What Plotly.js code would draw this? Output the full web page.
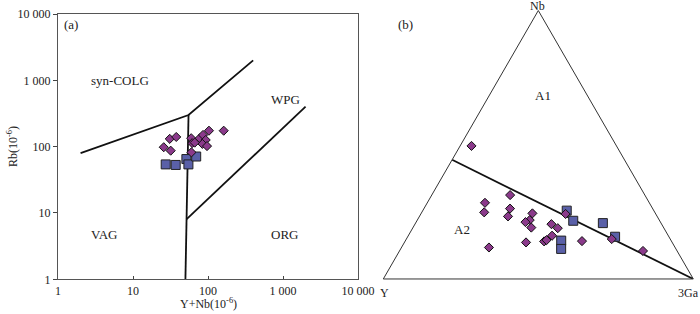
<!DOCTYPE html>
<html>
<head>
<meta charset="utf-8">
<script src="https://cdn.plot.ly/plotly-3.0.1.min.js"></script>
<style>html,body{margin:0;padding:0;background:#fff;}#chart{width:700px;height:314px;}</style>
</head>
<body>
<div id="chart"></div>
<script>
// ---------- Panel (a): Rb vs Y+Nb ----------
var diamondYNb = [25.7, 31.8, 30.9, 37.7, 59.7, 61.6, 60.1, 77.5, 85.8, 103, 93.2, 84.2, 97, 66.5, 162];
var diamondRb  = [98, 87, 131, 140, 134, 113, 82, 134, 150, 174, 126, 110, 102, 115, 174];
var squareYNb  = [27.3, 37.1, 51.5, 54.8, 69.6];
var squareRb   = [54, 53, 65, 54, 71];

// discrimination boundaries (Pearce et al. 1984)
var bVagColgX = [2, 55, 400];    var bVagColgY = [80, 300, 2000];
var bVertX = [55, 51.5, 50];     var bVertY = [300, 8, 1];
var bWpgOrgX = [51.5, 2000];     var bWpgOrgY = [8, 400];

var tickVals = [1, 10, 100, 1000, 10000];
var tickText = ['1', '10', '100', '1 000', '10 000'];

// ---------- Panel (b): Nb - Y - 3Ga ternary ----------
var diamondNb = [0.4956,0.3125,0.2838,0.2482,0.2622,0.2331,0.2444,0.2194,0.2119,0.1914,0.2043,0.1892,0.1612,0.1400,0.1449,0.1362,0.1173,0.2421,0.1411,0.1487,0.1044];
var diamondY  = [0.4677,0.4347,0.5301,0.5504,0.4601,0.4812,0.3968,0.4180,0.4354,0.4269,0.3555,0.3426,0.3750,0.4112,0.4009,0.4715,0.6005,0.2909,0.2885,0.1887,0.1101];
var diamondGa = [0.0367,0.2528,0.1861,0.2014,0.2777,0.2857,0.3588,0.3626,0.3527,0.3817,0.4402,0.4682,0.4638,0.4488,0.4542,0.3923,0.2822,0.4670,0.5704,0.6626,0.7855];
var squareNb  = [0.2546,0.2168,0.2081,0.1574,0.1430,0.1120];
var squareY   = [0.2810,0.2789,0.1877,0.1736,0.3546,0.3703];
var squareGa  = [0.4644,0.5043,0.6042,0.6690,0.5024,0.5177];
var lineNb = [0.444, 0];
var lineY  = [0.556, 0];
var lineGa = [0, 1];

var FONT = '"Liberation Serif", "Times New Roman", serif';
var diamondColor = '#8b3a8b';
var squareColor = '#5a60a8';
var lineColor = '#111';

function log10(v){ return Math.log(v)/Math.LN10; }

var traces = [
  {x: bVagColgX, y: bVagColgY, mode: 'lines', type: 'scatter', line: {color: lineColor, width: 1.8}, hoverinfo: 'skip', showlegend: false},
  {x: bVertX, y: bVertY, mode: 'lines', type: 'scatter', line: {color: lineColor, width: 1.8}, hoverinfo: 'skip', showlegend: false},
  {x: bWpgOrgX, y: bWpgOrgY, mode: 'lines', type: 'scatter', line: {color: lineColor, width: 1.8}, hoverinfo: 'skip', showlegend: false},
  {x: squareYNb, y: squareRb, mode: 'markers', type: 'scatter', showlegend: false,
   marker: {symbol: 'square', size: 9, color: squareColor, line: {color: '#222', width: 1}}},
  {x: diamondYNb, y: diamondRb, mode: 'markers', type: 'scatter', showlegend: false,
   marker: {symbol: 'diamond', size: 7, color: diamondColor, line: {color: '#111', width: 1}}},
  // ternary
  {type: 'scatterternary', a: lineNb, b: lineY, c: lineGa, mode: 'lines', line: {color: lineColor, width: 1.8}, showlegend: false, hoverinfo: 'skip'},
  {type: 'scatterternary', a: squareNb, b: squareY, c: squareGa, mode: 'markers', showlegend: false,
   marker: {symbol: 'square', size: 9, color: squareColor, line: {color: '#222', width: 1}}},
  {type: 'scatterternary', a: diamondNb, b: diamondY, c: diamondGa, mode: 'markers', showlegend: false,
   marker: {symbol: 'diamond', size: 7, color: diamondColor, line: {color: '#111', width: 1}}}
];

var ternAxis = function(){
  return {title: {text: ''}, showticklabels: false, ticks: '', showgrid: false,
          linecolor: '#333', linewidth: 1, min: 0};
};

var lblFont = {family: FONT, size: 13, color: '#222'};
var axFont = {family: FONT, size: 12, color: '#222'};

function paperLabel(px, py, text, font, angle){
  var o = {xref: 'paper', yref: 'paper', x: px/700, y: 1 - py/314, text: text,
           xanchor: 'center', yanchor: 'middle', showarrow: false, font: font};
  if (angle) o.textangle = angle;
  return o;
}

var layout = {
  width: 700, height: 314,
  margin: {l: 0, r: 0, t: 0, b: 0},
  paper_bgcolor: '#fff', plot_bgcolor: '#fff',
  font: {family: FONT, size: 12, color: '#222'},
  xaxis: {type: 'log', range: [0, 4], domain: [58/700, 358/700],
          tickvals: tickVals, ticktext: tickText, ticks: 'inside', ticklen: 3, tickcolor: '#444',
          showgrid: false, zeroline: false, showline: true, mirror: true, linecolor: '#555', linewidth: 1,
          tickfont: axFont, automargin: false},
  yaxis: {type: 'log', range: [0, 4], domain: [(314-279.3)/314, (314-14)/314],
          tickvals: tickVals, ticktext: tickText, ticks: 'outside', ticklen: 4, tickcolor: '#444',
          showgrid: false, zeroline: false, showline: true, mirror: true, linecolor: '#555', linewidth: 1,
          tickfont: axFont, automargin: false},
  ternary: {
    domain: {x: [383.3/700, 693.3/700], y: [(314-279)/314, (314-10.5)/314]},
    sum: 1, bgcolor: 'rgba(0,0,0,0)',
    aaxis: ternAxis(), baxis: ternAxis(), caxis: ternAxis()
  },
  annotations: [
    paperLabel(208, 303, 'Y+Nb(10<sup>-6</sup>)', axFont),
    paperLabel(12, 147, 'Rb(10<sup>-6</sup>)', axFont, -90),
    {xref: 'x', yref: 'y', x: log10(1.51), y: log10(6850), text: '(a)', showarrow: false, font: lblFont},
    {xref: 'x', yref: 'y', x: log10(6.65), y: log10(980), text: 'syn-COLG', showarrow: false, font: lblFont},
    {xref: 'x', yref: 'y', x: log10(1077), y: log10(506), text: 'WPG', showarrow: false, font: lblFont},
    {xref: 'x', yref: 'y', x: log10(4.2), y: log10(4.8), text: 'VAG', showarrow: false, font: lblFont},
    {xref: 'x', yref: 'y', x: log10(1054), y: log10(4.8), text: 'ORG', showarrow: false, font: lblFont},
    paperLabel(405.7, 24.3, '(b)', lblFont),
    paperLabel(543.3, 95, 'A1', lblFont),
    paperLabel(461.7, 229.3, 'A2', lblFont),
    paperLabel(537, 6, 'Nb', axFont),
    paperLabel(384, 293, 'Y', axFont),
    paperLabel(688, 293, '3Ga', axFont)
  ]
};

Plotly.newPlot('chart', traces, layout, {staticPlot: true, displayModeBar: false});
</script>
</body>
</html>
